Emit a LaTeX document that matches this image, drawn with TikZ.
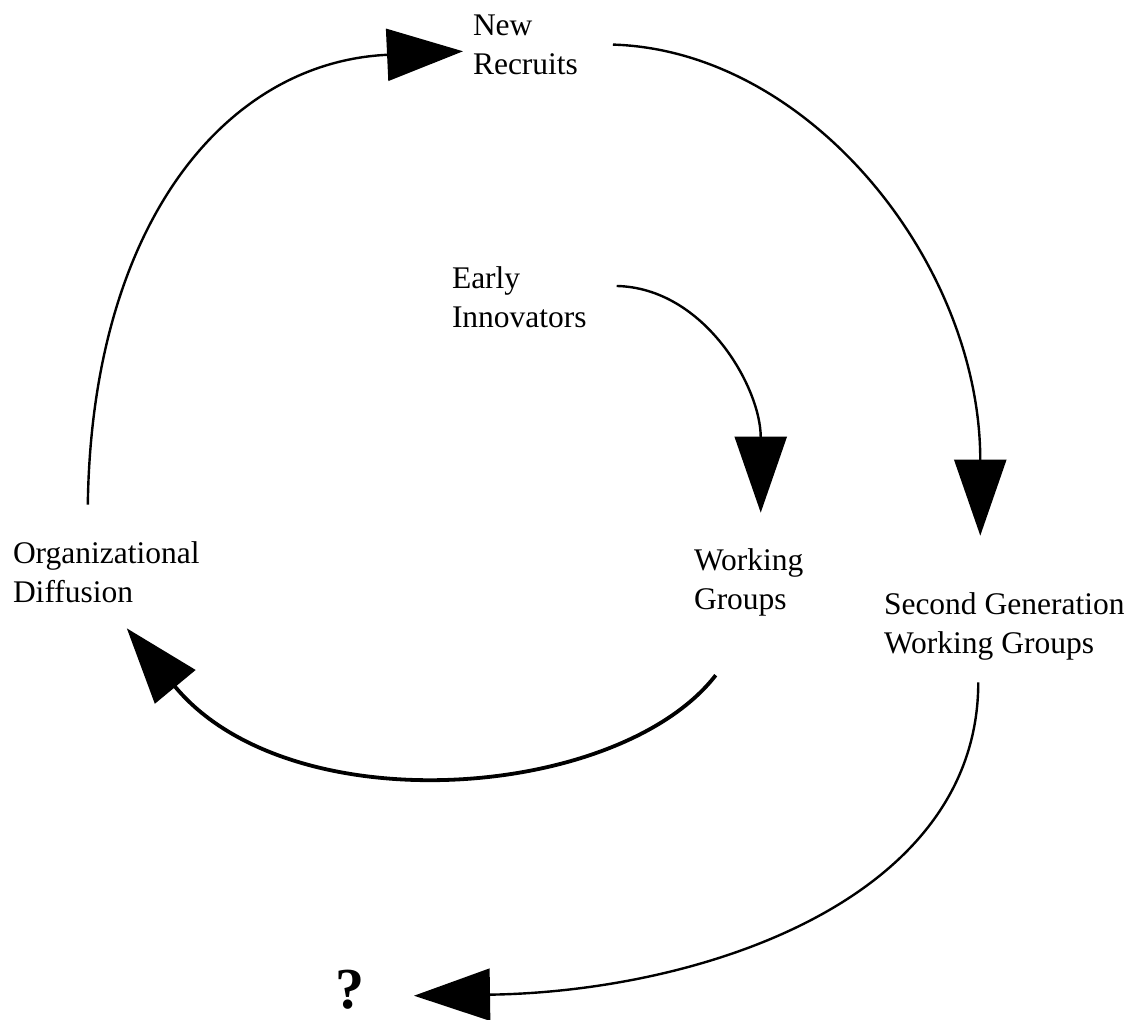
\documentclass[tikz,border=0pt]{standalone}
\usepackage{fontspec}
\setmainfont{Liberation Serif}
\usetikzlibrary{arrows.meta,calc}
\definecolor{dgink}{HTML}{000000}
\tikzset{
  dg label/.style={font=\fontsize{31.5}{39.5}\selectfont, text=dgink, align=left,
    anchor=base west, inner sep=0pt, outer sep=0pt},
  dg mark/.style={font=\fontsize{58}{60}\selectfont\bfseries, text=dgink,
    anchor=base west, inner sep=0pt, outer sep=0pt},
  dg arrow/.style={-{Triangle[length=76pt,width=52pt]}, line width=2.4pt, draw=dgink},
  dg heavy/.style={dg arrow, line width=3.8pt}
}

\begin{document}
\begin{tikzpicture}[x=1pt, y=-1pt]
  \useasboundingbox[fill=white] (0,0) rectangle (1130,1020);
  \node[dg label] (recruits) at (473,74.5) {New\\Recruits};
  \node[dg label] (innovators) at (452,327.5) {Early\\Innovators};
  \node[dg label] (groups) at (694,609.5) {Working\\Groups};
  \node[dg label] (second) at (884,653.5) {Second Generation\\Working Groups};
  \node[dg label] (diffusion) at (13,602.5) {Organizational\\Diffusion};
  \node[dg mark] (unknown) at (335,1008) {?};
  % outer loop
  \draw[dg arrow] ($(diffusion.north)+(-18.5,-36.5)$) .. controls +(4,-280) and +(-238,11) .. ($(recruits.west)+(-10,6.7)$);
  \draw[dg arrow] ($(recruits.east)+(35,0)$) .. controls +(197,6) and +(0,-272) .. ($(second.north)+(-24,-56.5)$);
  \draw[dg arrow] ($(second.south)+(-26,22)$) .. controls +(0,218) and +(286,-4) .. ($(unknown.east)+(50,6.5)$);
  % inner loop
  \draw[dg arrow] ($(innovators.east)+(30,-11)$) .. controls +(88,2) and +(0,-125) .. ($(groups.north)+(12,-35.5)$);
  \draw[dg heavy] ($(groups.south)+(-33,59)$) .. controls +(-97,125) and +(163,197) .. ($(diffusion.south)+(20.5,25.5)$);
\end{tikzpicture}
\end{document}
